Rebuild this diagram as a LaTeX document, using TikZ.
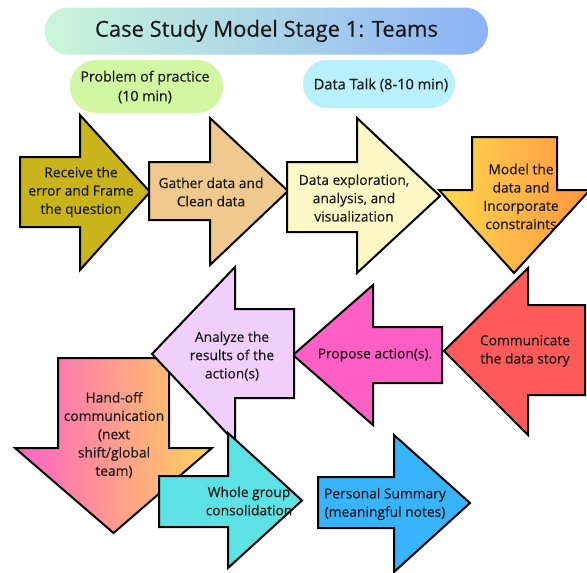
\documentclass[tikz,border=0pt]{standalone}
\usepackage{fontspec}
\setmainfont{Open Sans}
\newfontfamily\labelfont{Open Sans}[FakeBold=0.4]

% block arrows: horizontal (right/left) and downward
% #1 style, #2 body end, #3 body top, #4 body bottom, #5 head base,
% #6 head top, #7 head bottom, #8 tip x, #9 tip y
\newcommand{\hArrowShape}[9]{%
  \path[#1] (#2,#3) -- (#5,#3) -- (#5,#6) -- (#8,#9) -- (#5,#7) -- (#5,#4) -- (#2,#4) -- cycle;}
% #1 style, #2 body top, #3 body left, #4 body right, #5 head base,
% #6 head left, #7 head right, #8 tip x, #9 tip y
\newcommand{\vArrowShape}[9]{%
  \path[#1] (#3,#2) -- (#3,#5) -- (#6,#5) -- (#8,#9) -- (#7,#5) -- (#4,#5) -- (#4,#2) -- cycle;}

\definecolor{cReceive}{HTML}{CAB41C}
\definecolor{cGather}{HTML}{F0C98E}
\definecolor{cExplore}{HTML}{FEF8C6}
\definecolor{cModelL}{HTML}{FFD84E}
\definecolor{cModelR}{HTML}{FF9640}
\definecolor{cComm}{HTML}{FF5A5A}
\definecolor{cPropose}{HTML}{FF5EC4}
\definecolor{cAnalyze}{HTML}{F0D0FA}
\definecolor{cHandL}{HTML}{FF62C6}
\definecolor{cHandR}{HTML}{FFD45A}
\definecolor{cWhole}{HTML}{5CE2E4}
\definecolor{cPersonal}{HTML}{38B4FC}
\definecolor{cTitleL}{HTML}{C9F6D9}
\definecolor{cTitleR}{HTML}{8DB2F6}
\definecolor{cProblem}{HTML}{D2F7A2}
\definecolor{cTalk}{HTML}{B8F1FB}
\definecolor{cInk}{HTML}{1A1A1A}

\begin{document}
\begin{tikzpicture}[x=1pt, y=-1pt,
  blockarrow/.style={draw=black, line width=2pt, line join=miter},
  lbl/.style={align=center, inner sep=0pt, text=cInk,
    font=\labelfont\fontsize{13.8}{18.3}\selectfont},
  pill/.style={rectangle, inner sep=0pt, align=center, text=cInk}]

\useasboundingbox (0,0) rectangle (587,573);
\clip (0,0) rectangle (587,573);

% headings
\node[pill, minimum width=443pt, minimum height=47pt, rounded corners=23pt,
  left color=cTitleL, right color=cTitleR,
  font=\labelfont\fontsize{22}{26}\selectfont] (title) at (266.5,31)
  {Case Study Model Stage 1: Teams};
\node[pill, fill=cProblem, minimum width=153pt, minimum height=53pt,
  rounded corners=26pt] (problembox) at (146.5,86.5) {};
\node[lbl, font=\labelfont\fontsize{14.2}{19.5}\selectfont] (problem) at (145,87)
  {Problem of practice\\(10 min)};
\node[pill, fill=cTalk, minimum width=152pt, minimum height=48pt,
  rounded corners=24pt] (talkbox) at (379,84) {};
\node[lbl, font=\labelfont\fontsize{14.6}{19.5}\selectfont] (talk) at (381,85)
  {Data Talk (8-10 min)};

% top row, left to right
\hArrowShape{blockarrow, fill=cReceive}{20}{157}{227}{80}{115}{270}{150}{192}
\hArrowShape{blockarrow, fill=cGather}{149}{162}{220}{210}{118}{265}{288}{191}
\hArrowShape{blockarrow, fill=cExplore}{287}{162}{232}{357}{118}{273}{440}{196}
\vArrowShape{blockarrow, left color=cModelL, right color=cModelR}{137}{472}{557}{190}{439}{590}{514}{273}

% middle row, right to left
\hArrowShape{blockarrow, fill=cComm}{585}{305}{395}{528}{268}{435}{444}{351}
\hArrowShape{blockarrow, fill=cPropose}{442}{327}{383}{373}{285}{425}{293}{355}
\vArrowShape{blockarrow, left color=cHandL, right color=cHandR}{358}{58}{169}{448}{15}{212}{113.5}{533}
\hArrowShape{blockarrow, fill=cAnalyze}{294}{309}{398}{235}{267}{442}{152}{354}

% bottom row
\hArrowShape{blockarrow, fill=cWhole}{159}{476}{527}{228}{433}{568}{302}{500.5}
\hArrowShape{blockarrow, fill=cPersonal}{318}{477}{528}{394}{435}{572}{470}{503}

% step labels
\node[lbl] (receive) at (81,192) {Receive the\\error and Frame\\the question};
\node[lbl] (gather) at (211,192) {Gather data and\\Clean data};
\node[lbl] (explore) at (354,198) {Data exploration,\\analysis, and\\visualization};
\node[lbl] (model) at (521,196.5) {Model the\\data and\\Incorporate\\constraints};
\node[lbl] (communicate) at (525,351) {Communicate\\the data story};
\node[lbl] (propose) at (375,355) {Propose action(s).};
\node[lbl] (analyze) at (232,356) {Analyze the\\results of the\\action(s)};
\node[lbl] (handoff) at (114,435) {Hand-off\\communication\\(next\\shift/global\\team)};
\node[lbl] (whole) at (249,501) {Whole group\\consolidation};
\node[lbl] (personal) at (385,504) {Personal Summary\\(meaningful notes)};

\end{tikzpicture}
\end{document}
